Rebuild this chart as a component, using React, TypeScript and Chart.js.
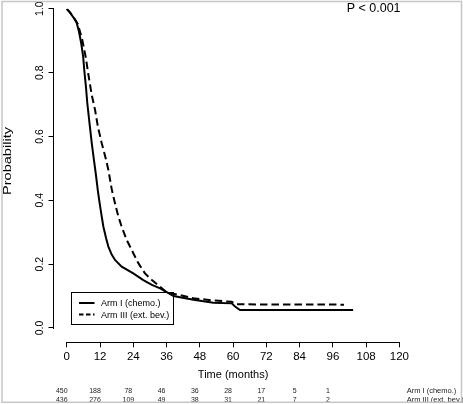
import React, { useEffect, useRef } from "react";
import { Chart, registerables } from "chart.js";

Chart.register(...registerables);

const FONT = '"Liberation Sans", Arial, Helvetica, sans-serif';

// Kaplan–Meier curves (time in months, survival probability)
const ARM1_T = [0, 1.2, 3.0, 3.6, 4.4, 5.2, 5.9, 6.3, 6.9, 7.4, 8.2, 9.0, 9.8, 10.5, 11.2, 11.7, 12.4, 13.2, 14.2, 15.0, 16.2, 17.4, 19.8, 24.0, 27.6, 30.7, 33.7, 36.7, 38.5, 45.7, 52.9, 59.5, 60.7, 62.5, 103.3];
const ARM1_S = [1.0, 0.988, 0.965, 0.955, 0.928, 0.892, 0.85, 0.808, 0.756, 0.704, 0.641, 0.579, 0.526, 0.48, 0.43, 0.4, 0.36, 0.317, 0.28, 0.255, 0.23, 0.213, 0.192, 0.171, 0.15, 0.135, 0.124, 0.109, 0.1, 0.088, 0.079, 0.077, 0.067, 0.056, 0.056];

const ARM3_T = [0, 1.2, 3.0, 4.0, 5.6, 6.9, 7.8, 9.0, 10.2, 11.2, 12.6, 14.2, 15.0, 16.2, 17.4, 18.6, 19.8, 21.6, 24.0, 25.8, 28.2, 30.7, 33.7, 36.0, 40.9, 45.7, 52.9, 59.5, 61.0, 100.0];
const ARM3_S = [1.0, 0.988, 0.966, 0.952, 0.902, 0.845, 0.793, 0.73, 0.683, 0.631, 0.579, 0.526, 0.495, 0.435, 0.39, 0.349, 0.317, 0.276, 0.234, 0.203, 0.171, 0.15, 0.129, 0.111, 0.103, 0.093, 0.086, 0.082, 0.074, 0.073];

const SERIES_LABELS = ["Arm I (chemo.)", "Arm III (ext. bev.)"];
const SERIES_DASH: number[][] = [[], [7.5, 4]];
const LEGEND_DASH: number[][] = [[], [4.5, 2.5]];

const X_STEP = 12;
const Y_STEP = 0.2;
const X_TITLE = "Time (months)";
const Y_TITLE = "Probability";
const P_LABEL = "P < 0.001";

// Numbers at risk
const RISK_TIMES = [0, 12, 24, 36, 48, 60, 72, 84, 96];
const RISK_ARM1 = [450, 188, 78, 46, 36, 28, 17, 5, 1];
const RISK_ARM3 = [436, 276, 109, 49, 38, 31, 21, 7, 2];

const toPoints = (ts: number[], ss: number[]) => ts.map((t, i) => ({ x: t, y: ss[i] }));

const rPlugin = {
  id: "rStyle",
  afterDraw(chart: any) {
    const ctx = chart.ctx as CanvasRenderingContext2D;
    const xs = chart.scales.x;
    const ys = chart.scales.y;
    const area = chart.chartArea;
    ctx.save();
    ctx.fillStyle = "#000";
    ctx.strokeStyle = "#000";

    // axis lines spanning first..last tick (R style)
    const xt = xs.ticks.map((t: any) => t.value);
    const yt = ys.ticks.map((t: any) => t.value);
    const xAxisY = Math.round(area.bottom) + 0.5;
    const yAxisX = Math.round(area.left) - 0.5;
    ctx.lineWidth = 1;
    ctx.setLineDash([]);
    ctx.beginPath();
    ctx.moveTo(Math.round(xs.getPixelForValue(xt[0])), xAxisY);
    ctx.lineTo(Math.round(xs.getPixelForValue(xt[xt.length - 1])) + 1, xAxisY);
    ctx.moveTo(yAxisX, Math.round(ys.getPixelForValue(yt[0])) + 1);
    ctx.lineTo(yAxisX, Math.round(ys.getPixelForValue(yt[yt.length - 1])));
    ctx.stroke();

    // rotated y tick labels
    ctx.font = `10.5px ${FONT}`;
    ctx.textAlign = "center";
    ctx.textBaseline = "alphabetic";
    for (const v of yt) {
      const py = ys.getPixelForValue(v);
      ctx.save();
      ctx.translate(43.3, py);
      ctx.rotate(-Math.PI / 2);
      ctx.fillText(v.toFixed(1), 0, 0);
      ctx.restore();
    }

    // y title
    ctx.save();
    ctx.font = `10px ${FONT}`;
    const w = ctx.measureText(Y_TITLE).width;
    ctx.translate(10.5, 161);
    ctx.rotate(-Math.PI / 2);
    ctx.scale(68 / w, 1);
    ctx.textAlign = "center";
    ctx.fillText(Y_TITLE, 0, 0);
    ctx.restore();

    // P value
    ctx.font = `12.5px ${FONT}`;
    ctx.textAlign = "left";
    ctx.fillText(P_LABEL, 346.7, 11.8);

    // legend box
    const lx = 71.5, ly = 292.5, lw = 102, lh = 32;
    ctx.lineWidth = 1;
    ctx.strokeRect(lx, ly, lw, lh);
    const rows = [303, 314.5];
    chart.data.datasets.forEach((ds: any, i: number) => {
      const ry = rows[i];
      ctx.lineWidth = 2;
      ctx.setLineDash(LEGEND_DASH[i]);
      ctx.beginPath();
      ctx.moveTo(79, ry);
      ctx.lineTo(94.5, ry);
      ctx.stroke();
      ctx.setLineDash([]);
      ctx.font = `9px ${FONT}`;
      ctx.textAlign = "left";
      ctx.fillText(ds.label, 101, ry + 3.3);
    });

    // numbers at risk
    ctx.fillStyle = "#222";
    ctx.font = `7px ${FONT}`;
    ctx.textAlign = "center";
    const riskRows = [RISK_ARM1, RISK_ARM3];
    const riskY = [393.3, 401.9];
    riskRows.forEach((row, r) => {
      row.forEach((n, i) => {
        const px = xs.getPixelForValue(RISK_TIMES[i]) - 5;
        ctx.fillText(String(n), px, riskY[r]);
      });
    });
    ctx.font = `7.5px ${FONT}`;
    ctx.textAlign = "left";
    SERIES_LABELS.forEach((lab, r) => {
      ctx.fillText(lab, 406.7, riskY[r]);
    });

    // outer frame
    ctx.fillStyle = "#fff";
    ctx.fillRect(0, 402.8, 463, 2);
    ctx.fillRect(0, 0, 463, 0.75);
    ctx.strokeStyle = "#c6c6c6";
    ctx.lineWidth = 1.5;
    ctx.strokeRect(2, 1.5, 459.5, 400.8);
    ctx.restore();
  },
};

export default function App() {
  const ref = useRef<HTMLCanvasElement | null>(null);

  useEffect(() => {
    document.body.style.margin = "0";
    const canvas = ref.current;
    if (!canvas) return;
    const chart = new Chart(canvas, {
      type: "line",
      data: {
        datasets: [
          {
            label: SERIES_LABELS[0],
            data: toPoints(ARM1_T, ARM1_S),
            borderColor: "#000",
            borderWidth: 2,
            borderDash: SERIES_DASH[0],
            pointRadius: 0,
            tension: 0,
            fill: false,
          },
          {
            label: SERIES_LABELS[1],
            data: toPoints(ARM3_T, ARM3_S),
            borderColor: "#000",
            borderWidth: 2,
            borderDash: SERIES_DASH[1],
            pointRadius: 0,
            tension: 0,
            fill: false,
          },
        ],
      },
      options: {
        animation: false,
        responsive: false,
        maintainAspectRatio: false,
        layout: { padding: { top: 8.8, right: 50.3, left: 0, bottom: 0 } },
        plugins: { legend: { display: false }, tooltip: { enabled: false } },
        scales: {
          x: {
            type: "linear",
            min: -4.8,
            max: 124.8,
            ticks: {
              stepSize: X_STEP,
              includeBounds: false,
              autoSkip: false,
              maxRotation: 0,
              color: "#000",
              padding: 3,
              font: { family: FONT, size: 11.5 },
            },
            grid: { drawOnChartArea: false, drawTicks: true, tickLength: 5, tickColor: "#000", color: "#000", lineWidth: 1 },
            border: { display: false },
            title: {
              display: true,
              text: X_TITLE,
              color: "#000",
              font: { family: FONT, size: 11 },
              padding: { top: 0, bottom: 22.4 },
            },
            afterFit: (s: any) => {
              s.height = 61.7;
            },
          },
          y: {
            type: "linear",
            min: -0.045,
            max: 1,
            ticks: { stepSize: Y_STEP, includeBounds: false, display: false },
            grid: { drawOnChartArea: false, drawTicks: true, tickLength: 5, tickColor: "#000", color: "#000", lineWidth: 1 },
            border: { display: false },
            afterFit: (s: any) => {
              s.width = 53.5;
            },
          },
        },
      },
      plugins: [rPlugin],
    });
    return () => chart.destroy();
  }, []);

  return (
    <div style={{ position: "fixed", left: 0, top: 0, width: 463, height: 404, background: "#fff" }}>
      <canvas ref={ref} width={463} height={404} style={{ display: "block", width: 463, height: 404 }} />
    </div>
  );
}
